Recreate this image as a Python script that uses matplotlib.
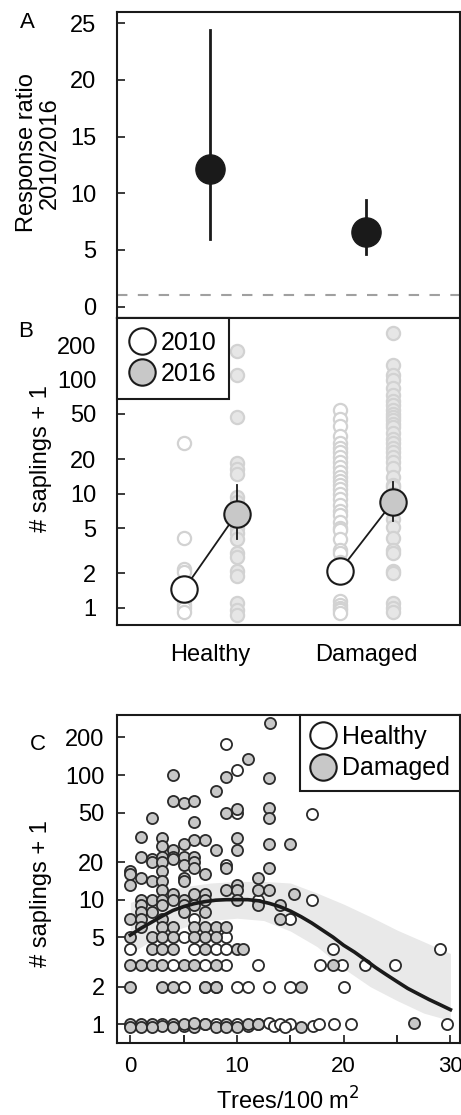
import matplotlib
matplotlib.use("Agg")
import matplotlib.pyplot as plt
from matplotlib.lines import Line2D

plt.rcParams['font.family'] = ['Liberation Sans', 'DejaVu Sans']

# ---------------- Panel A data ----------------
groups = ["Healthy", "Damaged"]
ratio_mean = [12.15, 6.6]
ratio_low = [6.0, 4.65]
ratio_high = [24.4, 9.4]
ratio_ref = 1.0

# ---------------- Panel B data ----------------
b_mean_2010 = [1.45, 2.11]
b_mean_2016 = [6.7, 8.4]
b_low_2016 = [3.98, 5.8]
b_high_2016 = [11.9, 12.7]
healthy_2010 = [27.7, 4.1, 2.2, 2.05, 1.15, 1.05, 1.0, 0.92]
healthy_2016 = [176, 110, 47, 18.5, 16.5, 15, 9.3, 8.4, 5, 4.5, 4, 3, 2.8,
                2.1, 1.9, 1.1, 0.95, 0.87]
damaged_2010 = [54, 45, 39, 32, 28, 25, 23, 21, 19, 17, 15.5, 14, 13, 12, 11,
                10, 9, 8, 7, 6.5, 5.7, 5, 4.8, 4, 3.2, 3, 2.5, 2.2, 2, 1.15,
                1.05, 1.0, 0.95, 0.9]
damaged_2016 = [255, 134, 110, 99, 84, 73, 65, 60, 54, 50, 47, 44, 41, 38, 34,
                30, 27.7, 25, 23, 21, 19, 16.7, 14, 12, 11.5, 10, 9, 8, 7, 6,
                5.1, 4.1, 3.2, 3, 2.1, 2.0, 1.1, 1.0, 0.92]

# ---------------- Panel C data ----------------
dam_trees = [13.1, 11, 4, 9, 13, 8, 4, 5, 6, 9, 10, 13, 13, 2, 6,
             1, 3, 10, 7, 6, 5, 13, 15, 3, 4, 8, 10,
             1, 2, 2, 3, 3, 4, 4, 5, 5, 6, 6, 6, 9, 13,
             0, 0, 1, 2, 3, 3, 5, 5, 7, 12, 0, 3, 9, 10, 10, 12, 13,
             6, 7, 15.3, 4,
             1, 2, 3, 4, 5, 7, 10,
             1, 3, 5, 6, 12, 14,
             1, 2, 5, 7,
             0, 1, 3, 14,
             1, 3, 4, 6, 7, 8, 9,
             0, 2, 3, 4, 6, 7, 8,
             2, 3, 4, 7, 10, 10.6,
             0, 1, 2, 3, 5, 6, 8, 19,
             0, 3, 4, 7, 8, 16,
             0, 0, 1, 2, 3, 4, 5, 6, 7, 8, 9, 10, 11, 12, 16, 26.6, 1, 2, 4, 6, 9]
dam_saplings = [262, 134, 100, 96, 95, 74, 62, 60, 62, 50, 53, 54, 45, 45, 42,
                32, 31, 31, 30, 30, 28, 28, 28, 27, 25, 25, 25,
                22, 21, 20, 22, 20, 22, 21, 22, 19, 22, 20, 18, 18, 18,
                17, 16, 15, 14, 17, 14, 15, 14, 16, 15, 13, 12, 12, 13, 12, 12, 12,
                11, 11, 11, 11,
                10, 10, 10, 10, 10, 10, 10,
                9, 9, 9, 9, 9, 9,
                8, 8, 8, 8,
                7, 7, 7, 7,
                6, 6, 6, 6, 6, 6, 6,
                5, 5, 5, 5, 5, 5, 5,
                4, 4, 4, 4, 4, 4,
                3, 3, 3, 3, 3, 3, 3, 3,
                2, 2, 2, 2, 2, 2,
                1, 0.95, 1, 1, 0.97, 1, 1, 0.95, 1, 0.96, 1, 0.95, 1, 1, 0.95, 1.02,
                0.96, 0.95, 0.96, 1.03, 0.95]
hea_trees = [9, 10, 10, 17, 9, 17, 12, 6, 15, 5, 9, 0, 6, 8, 9, 19, 29,
             4, 7, 9, 12, 17.8, 19.8, 22, 24.8,
             5, 7, 8, 10, 11, 13, 15, 20,
             3, 7, 10, 12, 13, 13.5, 14, 15, 17.1, 17.7, 19.1, 20.7, 29.7,
             5, 8, 11, 14.5]
hea_saplings = [178, 109, 50, 49, 19, 10, 10, 7, 7, 5, 5, 4, 4, 4, 4, 4, 4,
                3, 3, 3, 3, 3, 3, 3, 3,
                2, 2, 2, 2, 2, 2, 2, 2,
                1, 1, 1, 1, 1.02, 0.97, 1, 1, 0.97, 1.01, 1, 1, 1,
                0.97, 1, 0.97, 0.95]

fit_x = [0, 1, 2, 3, 4, 5, 6, 7, 8, 9, 10, 11, 12, 13, 14, 15, 16, 17, 18, 19,
         20, 21, 22, 23, 24, 25, 26, 27, 28, 29, 30]
fit_y = [5.2, 5.9, 6.6, 7.4, 8.2, 8.8, 9.3, 9.65, 9.9, 10.0, 10.0, 10.0, 9.8,
         9.35, 8.8, 8.1, 7.3, 6.5, 5.7, 5.0, 4.3, 3.8, 3.3, 2.85, 2.5, 2.2,
         1.94, 1.75, 1.58, 1.44, 1.31]
band_x = [0, 2.5, 5, 7.5, 10, 12.5, 15, 17.5, 20, 22.5, 25, 27.5, 30]
band_hi = [9.5, 11.3, 12.7, 13.6, 14.0, 14.0, 13.6, 11.3, 9.2, 7.3, 5.7, 4.6, 3.7]
band_lo = [3.7, 5.0, 6.0, 6.8, 7.1, 6.8, 5.6, 4.2, 2.8, 2.0, 1.55, 1.23, 1.07]

# ---------------- Figure ----------------
W, H = 461, 1115
fig = plt.figure(figsize=(W / 100, H / 100), dpi=100)

def box(l, t, r, b):
    return [l / W, 1 - b / H, (r - l) / W, (b - t) / H]

axA = fig.add_axes(box(117, 12, 459.5, 318))
axB = fig.add_axes(box(117, 318, 459.5, 624.5))
axC = fig.add_axes(box(117, 715, 459.5, 1043))

TICK_FS = 17
LAB_FS = 17
LEG_FS = 18

for ax in (axA, axB, axC):
    for s in ax.spines.values():
        s.set_linewidth(1.5)
        s.set_color('#1a1a1a')
    ax.tick_params(direction='in', length=6, width=1.2, labelsize=TICK_FS,
                   color='#1a1a1a')

# ----- A -----
xpos = [1, 2]
for x, m, lo, hi in zip(xpos, ratio_mean, ratio_low, ratio_high):
    axA.plot([x, x], [lo, hi], color='#1a1a1a', lw=2, zorder=2)
    axA.plot(x, m, 'o', ms=21, mfc='#1a1a1a', mec='#1a1a1a', zorder=3)
axA.axhline(ratio_ref, color='#a0a0a0', lw=1.5, ls=(0, (5, 5)), zorder=1)
axA.set_xlim(0.4, 2.6)
axA.set_ylim(-1, 26)
axA.set_yticks([0, 5, 10, 15, 20, 25])
axA.set_xticks([])
axA.tick_params(axis='y', pad=15)
axA.set_ylabel("Response ratio\n2010/2016", fontsize=LAB_FS, linespacing=1.05)
axA.yaxis.set_label_coords(-0.165, 0.54)

# ----- B -----
off = 0.17
axB.set_yscale('log')
for x, vals in ((1 - off, healthy_2010), (2 - off, damaged_2010)):
    axB.plot([x] * len(vals), vals, 'o', ms=9.5, mfc='white', mec='#d2d2d2',
             mew=1.6, ls='none', zorder=1)
for x, vals in ((1 + off, healthy_2016), (2 + off, damaged_2016)):
    axB.plot([x] * len(vals), vals, 'o', ms=9.5, mfc='#e6e6e6', mec='#d2d2d2',
             mew=1.6, ls='none', zorder=1)
for i, x in enumerate(xpos):
    axB.plot([x - off, x + off], [b_mean_2010[i], b_mean_2016[i]],
             color='#1a1a1a', lw=1.3, zorder=2)
    axB.plot([x + off, x + off], [b_low_2016[i], b_high_2016[i]],
             color='#1a1a1a', lw=1.3, zorder=2)
    axB.plot(x - off, b_mean_2010[i], 'o', ms=19, mfc='white', mec='#1a1a1a',
             mew=1.5, zorder=3)
    axB.plot(x + off, b_mean_2016[i], 'o', ms=19, mfc='#c8c8c8', mec='#1a1a1a',
             mew=1.5, zorder=3)
axB.set_xlim(0.4, 2.6)
axB.set_ylim(0.715, 345)
axB.set_yticks([1, 2, 5, 10, 20, 50, 100, 200])
axB.set_yticklabels(['1', '2', '5', '10', '20', '50', '100', '200'])
axB.minorticks_off()
axB.set_xticks(xpos)
axB.set_xticklabels(groups, fontsize=LAB_FS)
axB.tick_params(axis='x', length=0, pad=14)
axB.tick_params(axis='y', pad=15)
axB.set_ylabel("# saplings + 1", fontsize=LAB_FS)
axB.yaxis.set_label_coords(-0.19, 0.542)
hB = [Line2D([], [], ls='none', marker='o', ms=19, mfc='white', mec='#1a1a1a', mew=1.5),
      Line2D([], [], ls='none', marker='o', ms=19, mfc='#c8c8c8', mec='#1a1a1a', mew=1.5)]
legB = axB.legend(hB, ['2010', '2016'], loc='upper left', bbox_to_anchor=(0, 1),
                  borderaxespad=0, fancybox=False, framealpha=1, edgecolor='#1a1a1a',
                  fontsize=LEG_FS, handlelength=1.0, handletextpad=0.25,
                  labelspacing=0.3, borderpad=0.5)
legB.get_frame().set_linewidth(1.5)

# ----- C -----
axC.set_yscale('log')
axC.fill_between(band_x, band_lo, band_hi, color='#e9e9e9', lw=0, zorder=1)
axC.plot(hea_trees, hea_saplings, 'o', ms=8, mfc='white', mec='#2a2a2a',
         mew=1.3, ls='none', zorder=2)
axC.plot(dam_trees, dam_saplings, 'o', ms=8, mfc='#c8c8c8', mec='#2a2a2a',
         mew=1.3, ls='none', zorder=2)
axC.plot(fit_x, fit_y, color='#1a1a1a', lw=2.6, zorder=3)
axC.set_xlim(-1.25, 30.85)
axC.set_ylim(0.708, 303)
axC.set_yticks([1, 2, 5, 10, 20, 50, 100, 200])
axC.set_yticklabels(['1', '2', '5', '10', '20', '50', '100', '200'])
axC.minorticks_off()
axC.set_xticks([0, 10, 20, 30])
axC.set_xticks([0, 5, 10, 15, 20, 25, 30], minor=True)
axC.tick_params(axis='x', which='minor', direction='in', length=6, width=1.2)
axC.tick_params(axis='x', pad=9, labelsize=16)
axC.tick_params(axis='y', pad=9)
axC.set_xlabel("Trees/100 m$^2$", fontsize=LAB_FS, labelpad=8)
axC.set_ylabel("# saplings + 1", fontsize=LAB_FS)
axC.yaxis.set_label_coords(-0.19, 0.456)
hC = [Line2D([], [], ls='none', marker='o', ms=19, mfc='white', mec='#1a1a1a', mew=1.5),
      Line2D([], [], ls='none', marker='o', ms=19, mfc='#c8c8c8', mec='#1a1a1a', mew=1.5)]
legC = axC.legend(hC, ['Healthy', 'Damaged'], loc='upper right', bbox_to_anchor=(1, 1),
                  borderaxespad=0, fancybox=False, framealpha=1, edgecolor='#1a1a1a',
                  fontsize=LEG_FS, handlelength=1.0, handletextpad=0.25,
                  labelspacing=0.3, borderpad=0.4)
legC.get_frame().set_linewidth(1.5)

# panel letters
fig.text(27 / W, 1 - 22 / H, "A", fontsize=16, ha='center', va='center')
fig.text(26 / W, 1 - 332 / H, "B", fontsize=16, ha='center', va='center')
fig.text(38 / W, 1 - 745 / H, "C", fontsize=16, ha='center', va='center')

fig.savefig("out.png", dpi=100)
